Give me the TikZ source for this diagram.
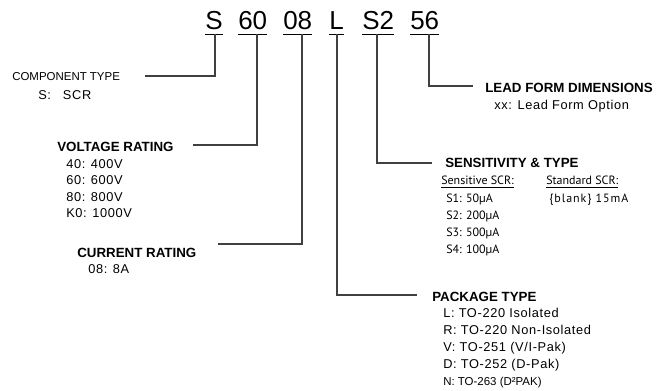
\documentclass[tikz,border=0pt]{standalone}
\usepackage{fontspec}
\setmainfont{Liberation Sans}
\newfontfamily\ptsans{PT Sans}
\begin{document}
\begin{tikzpicture}[x=0.75pt,y=-0.75pt,
  code/.style={font=\fontsize{19.5}{22}\selectfont, inner sep=0pt, anchor=base west},
  head/.style={font=\bfseries\fontsize{10}{12}\selectfont, inner sep=0pt, anchor=base west},
  item/.style={font=\fontsize{9.6}{11}\selectfont\addfontfeature{LetterSpace=5}, inner sep=0pt, anchor=base west},
  small/.style={font=\fontsize{8.6}{10}\selectfont, inner sep=0pt, anchor=base west},
  sens/.style={font=\ptsans\fontsize{9}{10}\selectfont, inner sep=0pt, anchor=base west},
  uline/.style={draw=black, line width=1.1pt},
  conn/.style={draw=black!75, line width=0.9pt}]
\useasboundingbox (0,0) rectangle (658,391);

% code letters
\node[code] (cS)  at (205,30) {S};
\node[code] (c60) at (238,30) {60};
\node[code] (c08) at (283,30) {08};
\node[code] (cL)  at (329,30) {L};
\node[code] (cS2) at (362,30) {S2};
\node[code] (c56) at (410,30) {56};
\foreach \n in {cS,c60,c08,cL,cS2,c56}
  \draw[uline] ([yshift=-3.5pt]\n.base west) -- ([yshift=-3.5pt]\n.base east);

% connector start points
\coordinate (tS)  at (215,34);
\coordinate (t60) at (257,34);
\coordinate (t08) at (302,34);
\coordinate (tL)  at (337,34);
\coordinate (tS2) at (377,34);
\coordinate (t56) at (429,34);
% connector end points
\coordinate (eS)  at (145,76);
\coordinate (e60) at (193,145);
\coordinate (e08) at (218,244);
\coordinate (eL)  at (417,295);
\coordinate (eS2) at (432,163);
\coordinate (e56) at (473,86);

\draw[conn] (tS) |- (eS);
\draw[conn] (t60) |- (e60);
\draw[conn] (t08) |- (e08);
\draw[conn] (tL) |- (eL);
\draw[conn] (tS2) |- (eS2);
\draw[conn] (t56) |- (e56);

% component type
\node[small] (ct) at (12,81) {COMPONENT TYPE};
\node[item] (ct1) at (38,100) {S:\hspace{9pt}SCR};

% voltage rating
\node[head] (vr) at (57,152) {VOLTAGE RATING};
\node[item] (vr1) at (66,169) {40: 400V};
\node[item] (vr2) at (66,185) {60: 600V};
\node[item] (vr3) at (66,202) {80: 800V};
\node[item] (vr4) at (66,218) {K0: 1000V};

% current rating
\node[head] (cr) at (77,258) {CURRENT RATING};
\node[item] (cr1) at (88,274) {08: 8A};

% lead form
\node[head] (lf) at (485,93) {LEAD FORM DIMENSIONS};
\node[item] (lf1) at (494,110) {xx: Lead Form Option};

% sensitivity
\node[head] (st) at (445,168) {SENSITIVITY \& TYPE};
\node[sens] (sh1) at (441,185) {\underline{Sensitive SCR:}};
\node[sens] (sh2) at (546,185) {\underline{Standard SCR:}};
\node[sens] (s1) at (446,203) {S1: 50µA};
\node[sens] (s2) at (446,220) {S2: 200µA};
\node[sens] (s3) at (446,237) {S3: 500µA};
\node[sens] (s4) at (446,254) {S4: 100µA};
\node[sens] (sb) at (549,203) {\addfontfeature{LetterSpace=8}\{blank\} 15mA};

% package type
\node[head] (pt) at (432,302) {PACKAGE TYPE};
\node[item] (p1) at (443,318) {L: TO-220 Isolated};
\node[item] (p2) at (443,335) {R: TO-220 Non-Isolated};
\node[item] (p3) at (443,352) {V: TO-251 (V/I-Pak)};
\node[item] (p4) at (443,369) {D: TO-252 (D-Pak)};
\node[small] (p5) at (443,386) {N: TO-263 (D²PAK)};
\end{tikzpicture}
\end{document}
